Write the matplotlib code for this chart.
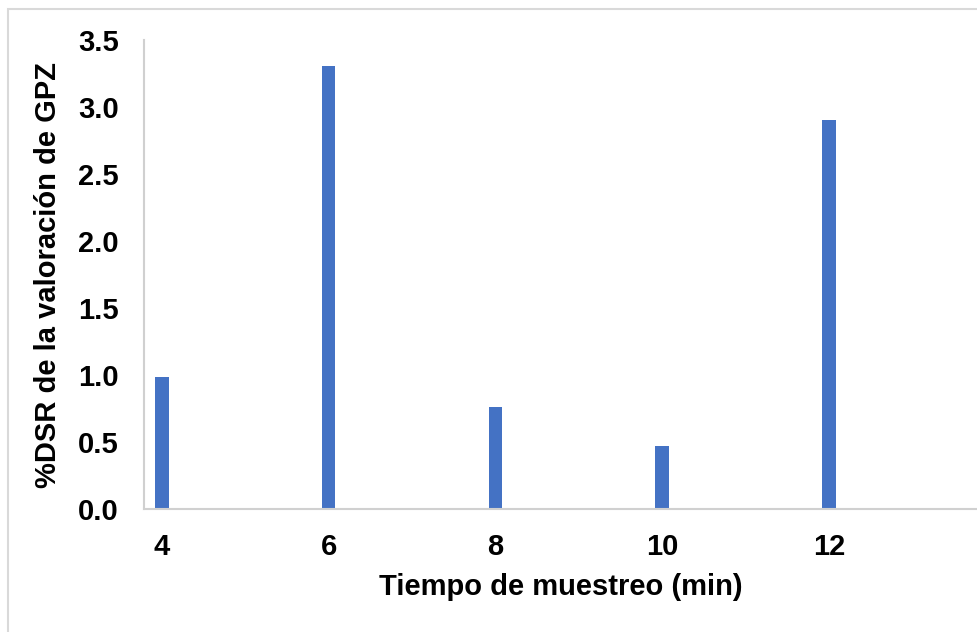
import matplotlib.pyplot as plt
from matplotlib.patches import Rectangle

plt.rcParams['font.family'] = ['Liberation Sans', 'DejaVu Sans']

tiempos = [4, 6, 8, 10, 12]
dsr = [0.985, 3.31, 0.76, 0.47, 2.90]
y_ticks = [0.0, 0.5, 1.0, 1.5, 2.0, 2.5, 3.0, 3.5]

fig = plt.figure(figsize=(9.78, 6.32), dpi=100)
ax = fig.add_axes([0.1472, 0.1946, 0.852, 0.742])

ax.bar(tiempos, dsr, width=0.162, color='#4472C4')

ax.set_xlim(3.784, 13.78)
ax.set_ylim(0, 3.5)
ax.set_xticks(tiempos)
ax.set_yticks(y_ticks)
ax.set_yticklabels([f'{v:.1f}' for v in y_ticks])

for s in ['top', 'right']:
    ax.spines[s].set_visible(False)
for s in ['left', 'bottom']:
    ax.spines[s].set_color('#d0d0d0')
    ax.spines[s].set_linewidth(1.5)

ax.tick_params(length=0, labelsize=21)
ax.tick_params(axis='y', pad=18)
ax.tick_params(axis='x', pad=17)
for lbl in ax.get_xticklabels() + ax.get_yticklabels():
    lbl.set_fontweight('bold')

ax.set_xlabel('Tiempo de muestreo (min)', fontsize=21, fontweight='bold', labelpad=9)
ax.set_ylabel('%DSR de la valoración de GPZ', fontsize=21, fontweight='bold', labelpad=12)

# marco exterior del gráfico
fig.patches.append(Rectangle((8 / 978, -0.1), 1.2, 1 - 9 / 632 + 0.1,
                             transform=fig.transFigure, fill=False,
                             edgecolor='#d9d9d9', linewidth=1.5))

fig.savefig('out.png', dpi=100)
